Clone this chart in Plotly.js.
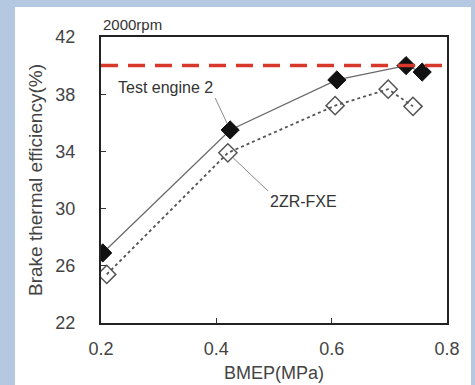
<!DOCTYPE html>
<html>
<head>
<meta charset="utf-8">
<script src="https://cdn.plot.ly/plotly-3.0.1.min.js"></script>
<style>html,body{margin:0;padding:0;background:#b5c8e2;}#chart{width:475px;height:385px;}</style>
</head>
<body>
<div id="chart"></div>
<script>
// Data
const testEngineBMEP = [0.203, 0.424, 0.609, 0.729, 0.757];
const testEngineBTE  = [26.9, 35.5, 39.0, 40.0, 39.55];
const zrBMEP = [0.21, 0.420, 0.606, 0.698, 0.741];
const zrBTE  = [25.4, 33.9, 37.2, 38.35, 37.15];
const targetBTE = 40.0;
const xTicks = [0.2, 0.4, 0.6, 0.8];
const xTickText = ['0.2', '0.4', '0.6', '0.8'];
const yTicks = [22, 26, 30, 34, 38, 42];

const FONT = 'Liberation Sans, Arial, sans-serif';

const traces = [
  {
    x: testEngineBMEP, y: testEngineBTE, type: 'scatter', mode: 'lines+markers',
    name: 'Test engine 2',
    line: {color: '#6a6a6a', width: 1.3},
    marker: {symbol: 'diamond', size: 14, color: '#111111', line: {color: '#111111', width: 1}}
  },
  {
    x: zrBMEP, y: zrBTE, type: 'scatter', mode: 'lines+markers',
    name: '2ZR-FXE',
    line: {color: '#555555', width: 1.8, dash: 'dot'},
    marker: {symbol: 'diamond-open', size: 14, color: '#555555', line: {color: '#555555', width: 1.5}}
  }
];

const layout = {
  width: 475, height: 385,
  margin: {l: 101, r: 28, t: 37, b: 62},
  paper_bgcolor: '#b5c8e2',
  plot_bgcolor: '#ffffff',
  showlegend: false,
  font: {family: FONT, color: '#444444'},
  xaxis: {
    range: [0.2, 0.8], tickvals: xTicks, ticktext: xTickText,
    ticks: 'inside', ticklen: 5, tickcolor: '#333', tickwidth: 1.2,
    showline: true, mirror: true, linecolor: '#222', linewidth: 2,
    showgrid: false, zeroline: false,
    tickfont: {size: 18, color: '#444'},
    ticklabelstandoff: 8,
    title: {text: 'BMEP(MPa)', font: {size: 18, color: '#444'}, standoff: 9}
  },
  yaxis: {
    range: [22, 42], tickvals: yTicks,
    ticks: 'inside', ticklen: 5, tickcolor: '#333', tickwidth: 1.2,
    showline: true, mirror: true, linecolor: '#222', linewidth: 2,
    showgrid: false, zeroline: false,
    tickfont: {size: 18, color: '#444'},
    ticklabelstandoff: 20,
    title: {text: 'Brake thermal efficiency(%)', font: {size: 19, color: '#444'}, standoff: 8}
  },
  shapes: [
    {type: 'rect', xref: 'paper', yref: 'paper', x0: -0.2486, x1: 1.0694, y0: -0.22, y1: 1.1049,
     fillcolor: '#ffffff', line: {width: 0}, layer: 'below'},
    {type: 'line', xref: 'paper', yref: 'y', x0: 0, x1: 1, y0: targetBTE, y1: targetBTE,
     line: {color: '#d8382c', width: 3.5, dash: '17px,10px'}}
  ],
  annotations: [
    {text: '2000rpm', xref: 'paper', yref: 'paper', x: 0, y: 1.0, xanchor: 'left', yanchor: 'bottom',
     yshift: 2, showarrow: false, font: {size: 15, color: '#333'}},
    {text: 'Test engine 2', x: testEngineBMEP[1], y: testEngineBTE[1], xref: 'x', yref: 'y',
     showarrow: true, arrowhead: 0, arrowwidth: 1, arrowcolor: '#8a8a8a', standoff: 7,
     ax: -15, ay: -32, xanchor: 'right', yanchor: 'bottom', font: {size: 16, color: '#333'}},
    {text: '2ZR-FXE', x: zrBMEP[1], y: zrBTE[1], xref: 'x', yref: 'y',
     showarrow: true, arrowhead: 0, arrowwidth: 1, arrowcolor: '#8a8a8a', standoff: 7,
     ax: 40, ay: 38, xanchor: 'left', yanchor: 'top', font: {size: 16, color: '#333'}}
  ]
};

Plotly.newPlot('chart', traces, layout, {displayModeBar: false, staticPlot: true});
</script>
</body>
</html>
